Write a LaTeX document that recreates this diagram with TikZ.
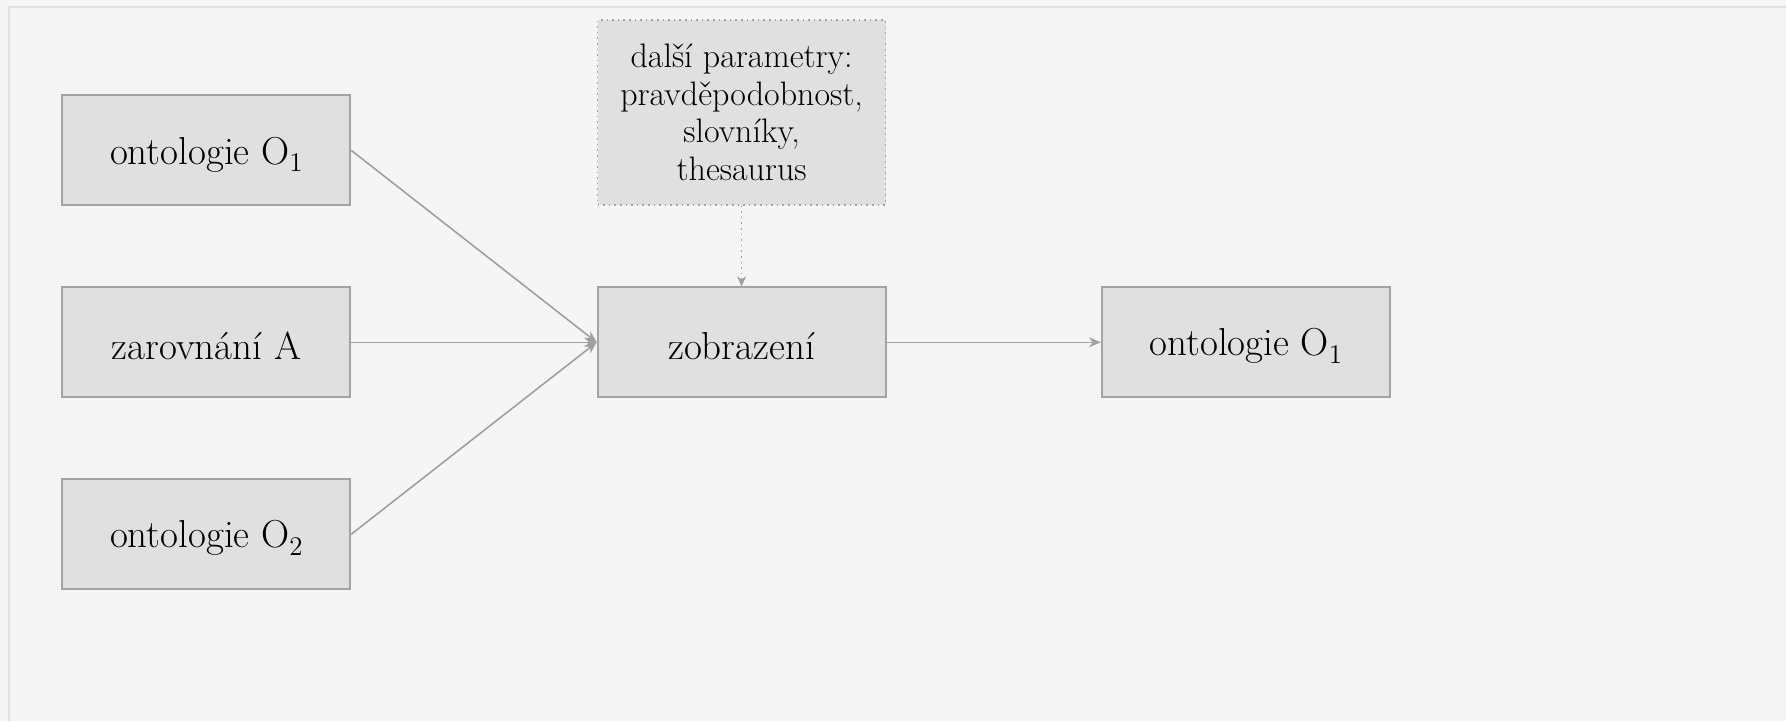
\documentclass[tikz,border=0pt]{standalone}
\usetikzlibrary{arrows.meta}
\definecolor{bgc}{HTML}{F5F5F5}
\definecolor{framec}{HTML}{E0E0E0}
\definecolor{boxfill}{HTML}{E0E0E0}
\definecolor{boxdraw}{HTML}{A3A3A3}
\definecolor{connc}{HTML}{A0A0A0}
\newcommand{\subidx}[1]{\raisebox{-0.45ex}{\fontsize{13.5}{13.5}\selectfont #1}}
\newcommand{\lowtxt}[1]{\raisebox{-2pt}[\height][\depth]{#1}}
\begin{document}
\begin{tikzpicture}[x=0.5pt,y=-0.5pt,
  box/.style={draw=boxdraw, fill=boxfill, line width=1pt, minimum width=144pt, minimum height=55pt, inner sep=0pt, font=\fontsize{19.5}{23}\selectfont},
  parambox/.style={draw=boxdraw, fill=boxfill, dotted, line width=0.8pt, minimum width=144pt, minimum height=92.5pt, inner sep=0pt, align=center, font=\fontsize{17}{18.8}\selectfont},
  connector/.style={draw=connc, line width=0.8pt, -{Stealth[length=6pt,width=5pt,inset=2pt]}},
  dotconn/.style={draw=connc, line width=0.8pt, dotted, -{Stealth[length=5pt,width=4.5pt,inset=1.5pt,sep=0pt]}}
]
\fill[bgc] (0,0) rectangle (1787,721);
\draw[framec, line width=1pt] (9,721) -- (9,7) -- (1787,7);

\node[box] (o1) at (206.5,150.5) {\lowtxt{ontologie O\subidx{1}}};
\node[box] (za) at (206.5,342.5) {\lowtxt{zarovnání A}};
\node[box] (o2) at (206.5,534.5) {\lowtxt{ontologie O\subidx{2}}};
\node[box] (zob) at (742,342.5) {\lowtxt{zobrazení}};
\node[box] (out) at (1246.5,342.5) {\lowtxt{ontologie O\subidx{1}}};
\node[parambox] (par) at (742,112.5) {další parametry:\\pravděpodobnost,\\slovníky,\\thesaurus};

\draw[connector] (o1.east) -- (zob.west);
\draw[connector] (za.east) -- (zob.west);
\draw[connector] (o2.east) -- (zob.west);
\draw[connector] (zob.east) -- (out.west);
\draw[dotconn] (par.south) -- (zob.north);
\end{tikzpicture}
\end{document}
